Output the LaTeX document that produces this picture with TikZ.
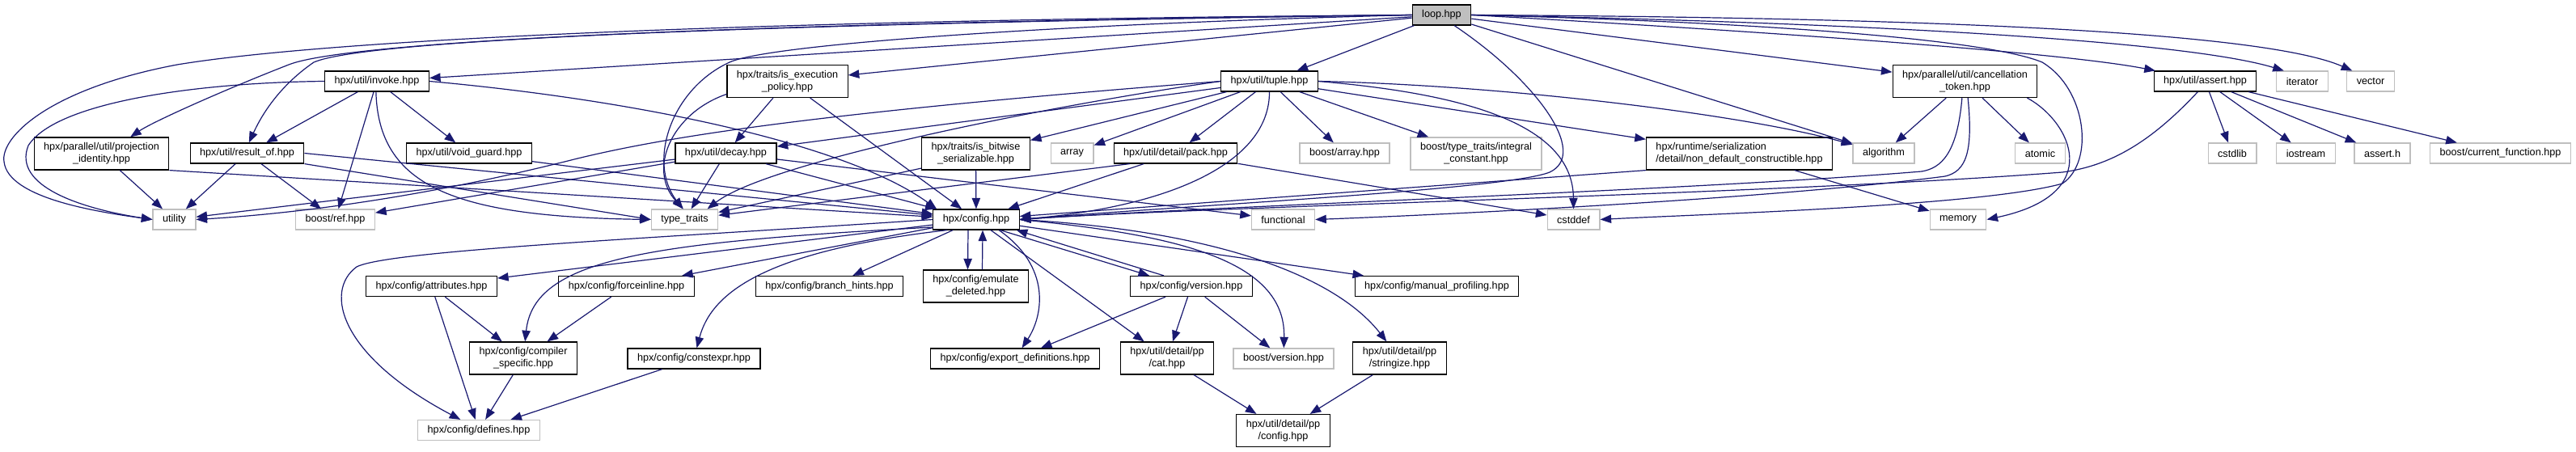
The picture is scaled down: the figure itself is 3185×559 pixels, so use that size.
\documentclass[tikz,border=0pt]{standalone}
\usepackage{fontspec}
\setmainfont{Liberation Sans}
\usetikzlibrary{arrows.meta}
\definecolor{edgeblue}{HTML}{191970}
\definecolor{boxgray}{HTML}{BFBFBF}

\begin{document}
\begin{tikzpicture}[x=0.25mm, y=-0.25mm,
    hdr/.style={draw=black, line width=0.3mm, fill=white, inner xsep=3mm, inner ysep=0.5mm,
        minimum height=6.25mm, align=center, font=\fontsize{9}{10.7}\selectfont},
    two/.style={hdr, minimum height=10mm},
    sys/.style={hdr, draw=boxgray},
    root/.style={hdr, fill=boxgray},
    dep/.style={draw=edgeblue, line width=0.3mm, -{Triangle[length=3.4mm,width=2.6mm]}}]
        \useasboundingbox (0,0) rectangle (3185,559);

        % Row 0 and 1
        \node[root] (loop) at (1782.5,18.5) {loop.hpp};
        \node[hdr] (invoke) at (466,100.5) {hpx/util/invoke.hpp};
        \node[two] (isexec) at (973.5,100.5) {hpx/traits/is\_execution\\\_policy.hpp};
        \node[hdr] (tuple) at (1569.5,100.5) {hpx/util/tuple.hpp};
        \node[two] (cancel) at (2429.5,100.5) {hpx/parallel/util/cancellation\\\_token.hpp};
        \node[hdr] (assert) at (2726.5,100.5) {hpx/util/assert.hpp};
        \node[sys] (iterator) at (2846.5,100.5) {iterator};
        \node[sys] (vector) at (2931,100.5) {vector};

        % Row 2
        \node[two] (proj) at (125.5,190) {hpx/parallel/util/projection\\\_identity.hpp};
        \node[hdr] (result) at (305.5,189.5) {hpx/util/result\_of.hpp};
        \node[hdr] (voidguard) at (580,189.5) {hpx/util/void\_guard.hpp};
        \node[hdr] (decay) at (897.5,189.5) {hpx/util/decay.hpp};
        \node[two] (bitwise) at (1206.5,190) {hpx/traits/is\_bitwise\\\_serializable.hpp};
        \node[sys] (array) at (1325.5,189.5) {array};
        \node[hdr] (pack) at (1453.5,189.5) {hpx/util/detail/pack.hpp};
        \node[sys] (barray) at (1662.5,189.5) {boost/array.hpp};
        \node[sys, minimum height=10mm] (integral) at (1825,190) {boost/type\_traits/integral\\\_constant.hpp};
        \node[two, align=left] (nondefault) at (2150.5,190) {hpx/runtime/serialization\\/detail/non\_default\_constructible.hpp};
        \node[sys] (algorithm) at (2329,189.5) {algorithm};
        \node[sys] (atomic) at (2522.5,189.5) {atomic};
        \node[sys] (cstdlib) at (2760,189.5) {cstdlib};
        \node[sys] (iostream) at (2851,189.5) {iostream};
        \node[sys] (asserth) at (2945.5,189.5) {assert.h};
        \node[sys] (curfunc) at (3091.5,189.5) {boost/current\_function.hpp};

        % Row 3
        \node[sys] (utility) at (215.5,271.5) {utility};
        \node[sys] (bref) at (414.5,271.5) {boost/ref.hpp};
        \node[sys] (ttraits) at (846.5,271.5) {type\_traits};
        \node[hdr] (config) at (1207,271.5) {hpx/config.hpp};
        \node[sys] (functional) at (1586.5,271.5) {functional};
        \node[sys] (cstddef) at (1945.5,271.5) {cstddef};
        \node[sys] (memory) at (2421,271.5) {memory};

        % Config headers
        \node[hdr] (attributes) at (533.5,354) {hpx/config/attributes.hpp};
        \node[hdr] (forceinline) at (774.5,354) {hpx/config/forceinline.hpp};
        \node[hdr] (branch) at (1025.5,354) {hpx/config/branch\_hints.hpp};
        \node[two] (emulate) at (1206.5,354) {hpx/config/emulate\\\_deleted.hpp};
        \node[hdr] (version) at (1473,354) {hpx/config/version.hpp};
        \node[hdr] (manual) at (1776.5,354) {hpx/config/manual\_profiling.hpp};
        \node[two] (compiler) at (647,443) {hpx/config/compiler\\\_specific.hpp};
        \node[hdr] (constexpr) at (858,443.5) {hpx/config/constexpr.hpp};
        \node[hdr] (export) at (1255,443.5) {hpx/config/export\_definitions.hpp};
        \node[two] (cat) at (1443,443) {hpx/util/detail/pp\\/cat.hpp};
        \node[sys] (bversion) at (1587,443.5) {boost/version.hpp};
        \node[two] (stringize) at (1730.5,443) {hpx/util/detail/pp\\/stringize.hpp};
        \node[sys] (defines) at (592,532) {hpx/config/defines.hpp};
        \node[two] (ppconfig) at (1586.5,532.5) {hpx/util/detail/pp\\/config.hpp};

        % loop.hpp includes
        \draw[dep] (loop.west) .. controls (900,25) and (400,50) .. (219,80) .. controls (60,110) and (0,170) .. (5,200) .. controls (10,245) and (120,262) .. (utility.west);
        \draw[dep] (loop.west) .. controls (800,30) and (420,55) .. (357,80) .. controls (280,110) and (190,150) .. (proj.30);
        \draw[dep] (loop.west) .. controls (900,30) and (450,50) .. (388,77) .. controls (340,110) and (320,150) .. (result.80);
        \draw[dep] (loop) -- (invoke);
        \draw[dep] (loop.west) .. controls (1300,30) and (950,55) .. (902,77) .. controls (830,110) and (800,200) .. (ttraits.100);
        \draw[dep] (loop) -- (isexec);
        \draw[dep] (loop) -- (tuple);
        \draw[dep] (loop.-40) .. controls (1900,100) and (1965,190) .. (1916,213) .. controls (1860,235) and (1450,255) .. (config.east);
        \draw[dep] (loop) -- (algorithm);
        \draw[dep] (loop) -- (cancel);
        \draw[dep] (loop.east) .. controls (2200,40) and (2550,65) .. (assert.168);
        \draw[dep] (loop.east) .. controls (2300,28) and (2700,50) .. (iterator.150);
        \draw[dep] (loop.east) .. controls (2400,22) and (2800,40) .. (vector.150);
        \draw[dep] (loop.east) .. controls (2200,28) and (2460,50) .. (2525,77) .. controls (2580,110) and (2590,200) .. (2550,227) .. controls (2450,255) and (2100,265) .. (cstddef.east);

        % invoke, projection, result_of, void_guard
        \draw[dep] (invoke.west) .. controls (250,102) and (70,125) .. (35,180) .. controls (15,230) and (100,258) .. (utility.west);
        \draw[dep] (invoke) -- (result);
        \draw[dep] (invoke) -- (voidguard);
        \draw[dep] (invoke) -- (bref);
        \draw[dep] (invoke.265) .. controls (468,230) and (560,268) .. (ttraits.west);
        \draw[dep] (invoke.east) .. controls (800,125) and (1050,180) .. (config.165);
        \draw[dep] (proj) -- (utility);
        \draw[dep] (proj.south east) -- (config);
        \draw[dep] (result) -- (utility);
        \draw[dep] (result) -- (bref);
        \draw[dep] (result.south east) -- (ttraits.west);
        \draw[dep] (result.east) -- (config);
        \draw[dep] (voidguard) -- (config);

        % is_execution_policy, decay
        \draw[dep] (isexec) -- (decay);
        \draw[dep] (isexec) -- (config);
        \draw[dep] (isexec.192) .. controls (830,140) and (800,210) .. (ttraits.97);
        \draw[dep] (decay) -- (ttraits);
        \draw[dep] (decay) -- (config);
        \draw[dep] (decay) -- (functional);
        \draw[dep] (decay) -- (utility);
        \draw[dep] (decay) -- (bref);

        % tuple.hpp includes
        \draw[dep] (tuple.west) .. controls (1000,140) and (820,170) .. (710,197) .. controls (560,235) and (400,262) .. (utility.east);
        \draw[dep] (tuple) -- (decay);
        \draw[dep] (tuple) -- (bitwise);
        \draw[dep] (tuple) -- (array);
        \draw[dep] (tuple) -- (pack);
        \draw[dep] (tuple) -- (barray);
        \draw[dep] (tuple) -- (integral);
        \draw[dep] (tuple) -- (nondefault);
        \draw[dep] (tuple.east) .. controls (1850,105) and (2150,140) .. (algorithm);
        \draw[dep] (tuple.east) .. controls (1800,115) and (1945,150) .. (cstddef);
        \draw[dep] (tuple.south) .. controls (1570,200) and (1450,255) .. (config.east);
        \draw[dep] (tuple.west) .. controls (1300,130) and (950,200) .. (ttraits.25);
        \draw[dep] (bitwise) -- (config);
        \draw[dep] (bitwise.195) -- (ttraits);
        \draw[dep] (pack) -- (config);
        \draw[dep] (pack.193) -- (ttraits);
        \draw[dep] (pack) -- (cstddef);
        \draw[dep] (nondefault.south west) -- (config);
        \draw[dep] (nondefault) -- (memory);

        % cancellation_token, assert
        \draw[dep] (cancel) -- (algorithm);
        \draw[dep] (cancel) -- (atomic);
        \draw[dep] (cancel.-15) .. controls (2560,150) and (2605,240) .. (memory.east);
        \draw[dep] (cancel.260) .. controls (2420,190) and (2400,208) .. (2376,212) .. controls (2100,235) and (1500,255) .. (config.east);
        \draw[dep] (cancel.280) .. controls (2440,190) and (2430,212) .. (2405,218) .. controls (2200,245) and (1800,265) .. (functional.east);
        \draw[dep] (assert.235) .. controls (2660,175) and (2610,205) .. (2550,213) .. controls (2200,240) and (1500,255) .. (config.east);
        \draw[dep] (assert) -- (cstdlib);
        \draw[dep] (assert) -- (iostream);
        \draw[dep] (assert) -- (asserth);
        \draw[dep] (assert) -- (curfunc);

        % hpx/config.hpp includes
        \draw[dep] (config) -- (attributes);
        \draw[dep] (config.190) .. controls (800,300) and (660,320) .. (compiler);
        \draw[dep] (config) -- (forceinline);
        \draw[dep] (config.200) .. controls (950,310) and (880,360) .. (constexpr);
        \draw[dep] (config) -- (branch);
        \draw[dep] (config.west) .. controls (800,295) and (480,310) .. (441,330) .. controls (400,360) and (420,440) .. (defines.150);
        \draw[dep] ([xshift=-2.5mm]config.south) -- ([xshift=-2.5mm]emulate.north);
        \draw[dep] ([xshift=2mm]emulate.north) -- ([xshift=2mm]config.south);
        \draw[dep] ([xshift=-6mm]config.south east) -- ([xshift=6mm]version.north west);
        \draw[dep] ([xshift=-8.5mm]version.north) -- ([xshift=-1mm]config.south east);
        \draw[dep] (config.-25) .. controls (1300,330) and (1290,390) .. (export);
        \draw[dep] (config) -- (cat);
        \draw[dep] (config.east) .. controls (1450,290) and (1590,320) .. (bversion);
        \draw[dep] (config.east) .. controls (1500,285) and (1650,340) .. (stringize);
        \draw[dep] (config) -- (manual);

        % lower config headers
        \draw[dep] (version) -- (export);
        \draw[dep] (version) -- (cat);
        \draw[dep] (version) -- (bversion);
        \draw[dep] (attributes) -- (compiler);
        \draw[dep] (attributes) -- (defines);
        \draw[dep] (forceinline) -- (compiler);
        \draw[dep] (compiler) -- (defines);
        \draw[dep] (constexpr) -- (defines);
        \draw[dep] (cat) -- (ppconfig);
        \draw[dep] (stringize) -- (ppconfig);
\end{tikzpicture}
\end{document}
